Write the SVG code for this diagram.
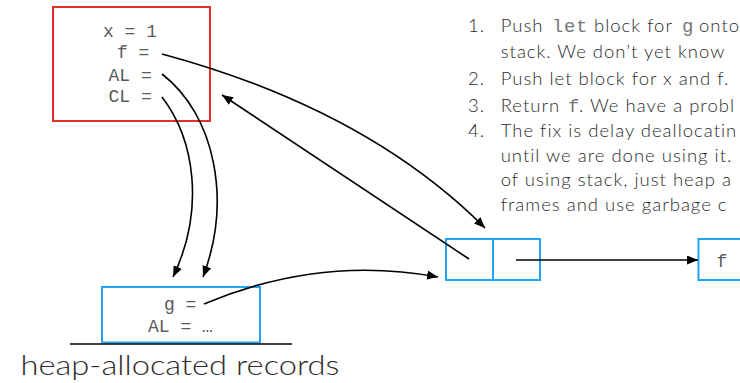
<svg xmlns="http://www.w3.org/2000/svg" width="740" height="383" viewBox="0 0 740 383">
<defs>
<marker id="ah" markerUnits="userSpaceOnUse" markerWidth="12" markerHeight="10" refX="11" refY="4.5" orient="auto">
<path d="M0,0 L11,4.5 L0,9 z" fill="#000"/>
</marker>
<style>
.mono{font-family:"Liberation Mono","Courier New",monospace;font-size:18px;fill:#5a5a5a;}
.txt{font-family:Lato,"Open Sans","Liberation Sans",sans-serif;font-size:18.5px;font-weight:300;fill:#2b2b2b;letter-spacing:1px;}
.code{font-family:"Liberation Mono","Courier New",monospace;font-size:19px;letter-spacing:0.6px;fill:#777;}
.red{fill:#fff;stroke:#e8302a;stroke-width:2;}
.blue{fill:#fff;stroke:#1fa5f5;stroke-width:2;}
.conn{fill:none;stroke:#000;stroke-width:1.6;}
</style>
</defs>
<rect width="740" height="383" fill="#fff"/>

<g id="stack-frame">
<rect class="red" x="53" y="7" width="157" height="114"/>
<text class="mono" x="103" y="37.3">x = 1</text>
<text class="mono" x="117" y="58.3">f =</text>
<text class="mono" x="108.5" y="80.7">AL =</text>
<text class="mono" x="108.5" y="101.7">CL =</text>
</g>

<g id="heap-record">
<rect class="blue" x="102" y="287" width="158" height="55.5"/>
<text class="mono" x="164" y="310">g =</text>
<text class="mono" x="148" y="331.7">AL = …</text>
</g>

<g id="heap-label">
<line x1="70" y1="344" x2="292" y2="344" stroke="#000" stroke-width="1.5"/>
<text x="20.5" y="375" font-family="Lato,'Open Sans','Liberation Sans',sans-serif" font-size="28" font-weight="300" fill="#2b2b2b" textLength="319" lengthAdjust="spacingAndGlyphs">heap-allocated records</text>
</g>

<g id="closure">
<rect class="blue" x="446" y="239" width="47" height="41"/>
<rect class="blue" x="493" y="239" width="47" height="41"/>
</g>

<g id="f-record">
<rect class="blue" x="698.5" y="239" width="60" height="41"/>
<text class="mono" x="716.6" y="266.7">f</text>
</g>

<g id="notes" class="txt">
<text x="468" y="32.3">1.</text>
<text x="500.7" y="32.3">Push <tspan class="code" x="552">let</tspan><tspan x="594">block for</tspan><tspan class="code" x="682">g</tspan><tspan x="699">onto</tspan></text>
<text x="500.7" y="58.3">stack. We don’t yet know</text>
<text x="468" y="85">2.</text>
<text x="500.7" y="85">Push let block for x and f.</text>
<text x="468" y="111.5">3.</text>
<text x="500.7" y="111.5">Return<tspan class="code" x="568">f</tspan><tspan x="579">. We have a probl</tspan></text>
<text x="468" y="136.7">4.</text>
<text x="500.7" y="136.7">The fix is delay deallocatin</text>
<text x="500.7" y="161.5">until we are done using it.</text>
<text x="500.7" y="186">of using stack, just heap a</text>
<text x="500.7" y="210.5">frames and use garbage c</text>
</g>

<g id="connectors" class="conn">
<path d="M162,54 Q366,109 485,228" marker-end="url(#ah)"/>
<path d="M469,259 L222,95" marker-end="url(#ah)"/>
<path d="M162,74 C215,115 232,200 203,277" marker-end="url(#ah)"/>
<path d="M162,97 C195,140 205,210 173,277" marker-end="url(#ah)"/>
<path d="M204,304 Q320,255 438,277" marker-end="url(#ah)"/>
<path d="M516,260 L698,260" marker-end="url(#ah)"/>
</g>
</svg>
